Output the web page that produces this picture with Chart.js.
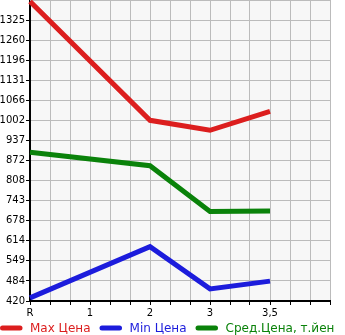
<!DOCTYPE html>
<html>
<head>
<meta charset="utf-8">
<script src="https://cdn.jsdelivr.net/npm/chart.js@4"></script>
<style>
  html, body { margin: 0; padding: 0; background: #fff; }
  canvas { display: block; }
</style>
</head>
<body>
<canvas id="priceChart" width="345" height="335"></canvas>
<script>
const categories = ['R', '', '', '1', '', '', '2', '', '', '3', '', '', '3,5', '', '', ''];
const maxPrice = [1385, null, null, null, null, null, 1002, null, null, 970, null, null, 1031, null, null, null];
const minPrice = [430, null, null, null, null, null, 595, null, null, 459, null, null, 484, null, null, null];
const avgPrice = [899, null, null, null, null, null, 856, null, null, 708, null, null, 710, null, null, null];
const yTickLabels = ['420', '484', '549', '614', '678', '743', '808', '872', '937', '1002', '1066', '1131', '1196', '1260', '1325'];
const yMin = 420;
const yStep = 64.64;

const seriesNames = ['Max Цена', 'Min Цена', 'Сред.Цена, т.йен'];
const seriesColors = ['#dc1e1e', '#1c1cdc', '#0a820a'];

// grey plot background + top grid line (no tick there)
const plotBackground = {
  id: 'plotBackground',
  beforeDraw(chart) {
    const a = chart.chartArea;
    const ctx = chart.ctx;
    ctx.save();
    ctx.fillStyle = '#f7f7f7';
    ctx.fillRect(a.left, a.top, a.right - a.left, a.bottom - a.top);
    ctx.restore();
  },
  beforeDatasetsDraw(chart) {
    const a = chart.chartArea;
    const ctx = chart.ctx;
    ctx.save();
    ctx.strokeStyle = '#bbbbbb';
    ctx.lineWidth = 1;
    ctx.beginPath();
    ctx.moveTo(a.left, a.top + 0.5);
    ctx.lineTo(a.right, a.top + 0.5);
    ctx.stroke();
    ctx.restore();
  }
};

// legend drawn by hand so it stays on one line
const lineLegend = {
  id: 'lineLegend',
  afterDraw(chart) {
    const ctx = chart.ctx;
    const y = 328;
    let x = 0;
    ctx.save();
    ctx.font = '12px "DejaVu Sans", sans-serif';
    ctx.textBaseline = 'middle';
    chart.data.datasets.forEach((ds) => {
      ctx.strokeStyle = ds.borderColor;
      ctx.lineWidth = 5;
      ctx.lineCap = 'round';
      ctx.beginPath();
      ctx.moveTo(x + 2.5, y);
      ctx.lineTo(x + 20, y);
      ctx.stroke();
      ctx.fillStyle = ds.borderColor;
      ctx.fillText(ds.label, x + 30, y + 1);
      x += 30 + ctx.measureText(ds.label).width + 9;
    });
    ctx.restore();
  }
};

function initializeChart() {
  const ctx = document.getElementById('priceChart').getContext('2d');
  Chart.defaults.font.family = '"DejaVu Sans", sans-serif';
  const series = [maxPrice, minPrice, avgPrice];
  new Chart(ctx, {
    type: 'line',
    data: {
      labels: categories,
      datasets: series.map((d, i) => ({
        label: seriesNames[i],
        data: d,
        borderColor: seriesColors[i],
        backgroundColor: seriesColors[i],
        borderWidth: 5,
        pointRadius: 0,
        tension: 0,
        spanGaps: true
      }))
    },
    options: {
      responsive: false,
      animation: false,
      layout: { padding: { top: 0, right: 15, left: 0, bottom: 14 } },
      scales: {
        x: {
          offset: false,
          grid: { color: '#bbbbbb', lineWidth: 1, tickLength: 4, tickColor: '#000' },
          border: { color: '#000', width: 2 },
          ticks: { color: '#000', font: { size: 10 }, autoSkip: false, maxRotation: 0, padding: 2 }
        },
        y: {
          min: yMin,
          max: yMin + yStep * yTickLabels.length,
          afterBuildTicks(scale) {
            scale.ticks = yTickLabels.map((t, i) => ({ value: yMin + yStep * i }));
          },
          afterFit(scale) {
            scale.width = 30;
            scale.paddingTop = 0;
            scale.paddingBottom = 0;
          },
          grid: { color: '#bbbbbb', lineWidth: 1, tickLength: 4, tickColor: '#000' },
          border: { color: '#000', width: 2 },
          ticks: {
            color: '#000',
            font: { size: 10 },
            padding: 1,
            callback: (v, i) => yTickLabels[i]
          }
        }
      },
      plugins: {
        tooltip: { enabled: false },
        legend: { display: false }
      }
    },
    plugins: [plotBackground, lineLegend]
  });
}

window.onload = initializeChart;
</script>
</body>
</html>
